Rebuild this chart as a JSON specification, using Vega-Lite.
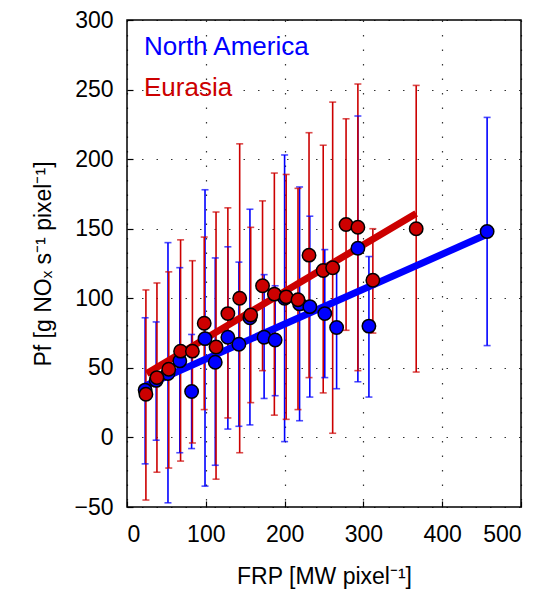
{
  "$schema": "https://vega.github.io/schema/vega-lite/v6.json",
  "width": 394,
  "height": 487,
  "autosize": "none",
  "padding": {"left": 127, "top": 20, "right": 24, "bottom": 83},
  "background": "white",
  "config": {
    "font": "Liberation Sans",
    "view": {"stroke": "black", "strokeWidth": 1.5},
    "axis": {
      "domain": false,
      "grid": true,
      "gridColor": "black",
      "gridDash": [1.5, 13],
      "gridWidth": 1.2,
      "gridOpacity": 0.8,
      "tickColor": "black",
      "tickSize": -6,
      "tickWidth": 1.2,
      "labelFont": "Liberation Sans",
      "labelFontSize": 23,
      "labelColor": "black",
      "titleFont": "Liberation Sans",
      "titleFontSize": 23,
      "titleFontWeight": "normal",
      "titleColor": "black"
    }
  },
  "datasets": {
    "pts": [
      {"region": "North America", "frp": 23, "pf": 34, "lo": -19, "hi": 86},
      {"region": "North America", "frp": 37, "pf": 41, "lo": -2, "hi": 83},
      {"region": "North America", "frp": 52, "pf": 46, "lo": -47, "hi": 140},
      {"region": "North America", "frp": 67, "pf": 55, "lo": -11, "hi": 122},
      {"region": "North America", "frp": 82, "pf": 33, "lo": -8, "hi": 74},
      {"region": "North America", "frp": 99, "pf": 71, "lo": -35, "hi": 178},
      {"region": "North America", "frp": 112, "pf": 54, "lo": -20, "hi": 129},
      {"region": "North America", "frp": 128, "pf": 72, "lo": 6, "hi": 137},
      {"region": "North America", "frp": 142, "pf": 67, "lo": 8, "hi": 126},
      {"region": "North America", "frp": 156, "pf": 86, "lo": 9, "hi": 164},
      {"region": "North America", "frp": 174, "pf": 72, "lo": 28, "hi": 117},
      {"region": "North America", "frp": 188, "pf": 70, "lo": 30, "hi": 109},
      {"region": "North America", "frp": 200, "pf": 100, "lo": -3, "hi": 203},
      {"region": "North America", "frp": 219, "pf": 96, "lo": 12, "hi": 180},
      {"region": "North America", "frp": 232, "pf": 94, "lo": 29, "hi": 159},
      {"region": "North America", "frp": 251, "pf": 89, "lo": 43, "hi": 135},
      {"region": "North America", "frp": 266, "pf": 79, "lo": 35, "hi": 123},
      {"region": "North America", "frp": 293, "pf": 136, "lo": 40, "hi": 231},
      {"region": "North America", "frp": 307, "pf": 80, "lo": 29, "hi": 130},
      {"region": "North America", "frp": 457, "pf": 148, "lo": 66, "hi": 230},
      {"region": "Eurasia", "frp": 24, "pf": 31, "lo": -45, "hi": 106},
      {"region": "Eurasia", "frp": 38, "pf": 43, "lo": -25, "hi": 111},
      {"region": "Eurasia", "frp": 53, "pf": 49, "lo": -22, "hi": 119},
      {"region": "Eurasia", "frp": 68, "pf": 62, "lo": -17, "hi": 142},
      {"region": "Eurasia", "frp": 83, "pf": 62, "lo": -4, "hi": 127},
      {"region": "Eurasia", "frp": 98, "pf": 82, "lo": 20, "hi": 144},
      {"region": "Eurasia", "frp": 113, "pf": 65, "lo": -30, "hi": 162},
      {"region": "Eurasia", "frp": 128, "pf": 89, "lo": 14, "hi": 165},
      {"region": "Eurasia", "frp": 143, "pf": 100, "lo": -11, "hi": 211},
      {"region": "Eurasia", "frp": 157, "pf": 88, "lo": 25, "hi": 151},
      {"region": "Eurasia", "frp": 172, "pf": 109, "lo": 48, "hi": 170},
      {"region": "Eurasia", "frp": 187, "pf": 103, "lo": 16, "hi": 190},
      {"region": "Eurasia", "frp": 202, "pf": 101, "lo": 13, "hi": 189},
      {"region": "Eurasia", "frp": 217, "pf": 99, "lo": 20, "hi": 179},
      {"region": "Eurasia", "frp": 231, "pf": 131, "lo": 43, "hi": 219},
      {"region": "Eurasia", "frp": 249, "pf": 120, "lo": 32, "hi": 210},
      {"region": "Eurasia", "frp": 261, "pf": 122, "lo": 3, "hi": 241},
      {"region": "Eurasia", "frp": 278, "pf": 153, "lo": 77, "hi": 229},
      {"region": "Eurasia", "frp": 293, "pf": 151, "lo": 48, "hi": 254},
      {"region": "Eurasia", "frp": 312, "pf": 113, "lo": 75, "hi": 150},
      {"region": "Eurasia", "frp": 367, "pf": 150, "lo": 47, "hi": 253}
    ],
    "fit": [
      {"region": "North America", "frp": 23, "pf": 37},
      {"region": "North America", "frp": 457, "pf": 146},
      {"region": "Eurasia", "frp": 25, "pf": 46},
      {"region": "Eurasia", "frp": 367, "pf": 161}
    ]
  },
  "encoding": {
    "x": {
      "field": "frp", "type": "quantitative",
      "scale": {"domain": [0, 500], "nice": false},
      "axis": {"values": [0, 100, 200, 300, 400, 500], "title": "FRP [MW pixel⁻¹]", "labelPadding": 22, "titlePadding": 19}
    },
    "y": {
      "field": "pf", "type": "quantitative",
      "scale": {"domain": [-50, 300], "nice": false},
      "axis": {"values": [-50, 0, 50, 100, 150, 200, 250, 300], "title": "Pf [g NOₓ s⁻¹ pixel⁻¹]", "labelPadding": 20, "titlePadding": 18}
    },
    "color": {
      "field": "region", "type": "nominal",
      "scale": {"domain": ["North America", "Eurasia"], "range": ["#0000ff", "#cc0000"]},
      "legend": {
        "title": null,
        "orient": "top-left",
        "offset": 14,
        "padding": 0,
        "symbolSize": 0,
        "symbolStrokeWidth": 0,
        "symbolOpacity": 0,
        "labelFontSize": 26,
        "labelFont": "Liberation Sans",
        "labelOffset": -23,
        "labelLimit": 300,
        "rowPadding": 15,
        "encode": {"labels": {"update": {"fill": {"scale": "color", "field": "value"}}}}
      }
    }
  },
  "layer": [
    {
      "data": {"name": "pts"},
      "mark": {"type": "rule", "strokeWidth": 1.6},
      "encoding": {"y": {"field": "lo", "type": "quantitative"}, "y2": {"field": "hi"}}
    },
    {
      "data": {"name": "pts"},
      "mark": {"type": "tick", "orient": "horizontal", "size": 7, "thickness": 1.6},
      "encoding": {"y": {"field": "lo", "type": "quantitative"}}
    },
    {
      "data": {"name": "pts"},
      "mark": {"type": "tick", "orient": "horizontal", "size": 7, "thickness": 1.6},
      "encoding": {"y": {"field": "hi", "type": "quantitative"}}
    },
    {
      "data": {"name": "fit"},
      "mark": {"type": "line", "strokeWidth": 7, "strokeCap": "butt"},
      "encoding": {"detail": {"field": "region"}}
    },
    {
      "data": {"name": "pts"},
      "mark": {"type": "circle", "size": 180, "opacity": 1, "stroke": "black", "strokeWidth": 1.5}
    }
  ]
}
